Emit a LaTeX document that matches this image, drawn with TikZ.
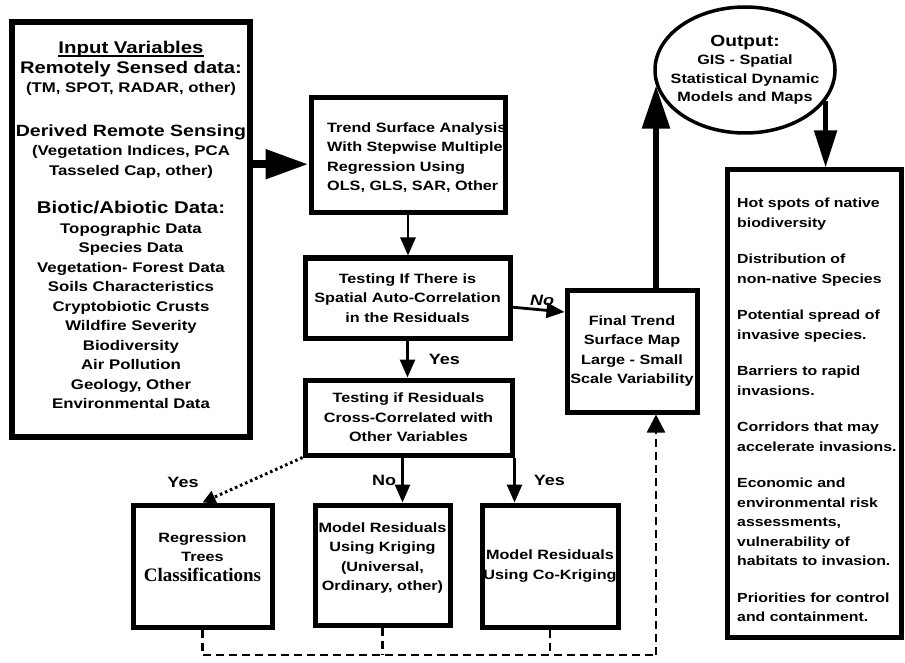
\documentclass[tikz,border=0pt]{standalone}
\usepackage{fontspec}
\usetikzlibrary{arrows.meta,shapes.geometric,calc}
\newfontfamily\dfont{Liberation Sans}[FakeStretch=1.2]
\newfontfamily\cfont{Liberation Serif}
% thick underline for the heading of the input box
\newcommand\ulbox[1]{\setbox0\hbox{#1}\rlap{\raisebox{-3.5pt}{\rule{\wd0}{1.8pt}}}\box0}

\begin{document}
\begin{tikzpicture}[x=1pt,y=-1pt,
  box/.style={draw, line width=5pt, rectangle, inner sep=0pt},
  btxt/.style={font=\dfont\bfseries\fontsize{13.5}{19.5}\selectfont, align=center, inner sep=0pt},
  lbl/.style={font=\dfont\bfseries\fontsize{15}{18}\selectfont, inner sep=0pt},
  arr/.style={line width=2.8pt, -{Triangle[length=18pt,width=15pt]}},
  dashln/.style={line width=2.5pt, dash pattern=on 8pt off 5pt},
  dotln/.style={line width=3pt, dash pattern=on 2.5pt off 3pt},
]
\useasboundingbox (0,0) rectangle (905,663);
\fill[white] (0,0) rectangle (905,663);

% ---- input variables ----
\node[box, line width=6pt, minimum width=238pt, minimum height=415pt] (input) at (131,229.5) {};
\node[btxt, font=\dfont\bfseries\fontsize{14}{19.5}\selectfont] (inputtxt) at (131,225) {%
  {\fontsize{17}{19.5}\selectfont\ulbox{Input Variables}}\\
  {\fontsize{16.8}{19.5}\selectfont Remotely Sensed data:}\\
  (TM, SPOT, RADAR, other)\\[24pt]
  {\fontsize{16.3}{19.5}\selectfont Derived Remote Sensing}\\
  (Vegetation Indices, PCA\\
  Tasseled Cap, other)\\[19pt]
  {\fontsize{17}{19.5}\selectfont Biotic/Abiotic Data:}\\
  Topographic Data\\
  Species Data\\
  Vegetation- Forest Data\\
  Soils Characteristics\\
  Cryptobiotic Crusts\\
  Wildfire Severity\\
  Biodiversity\\
  Air Pollution\\
  Geology, Other\\
  Environmental Data};

% ---- analysis chain ----
\node[box, minimum width=194pt, minimum height=115pt] (trend) at (408,155.5) {};
\node[btxt, align=left, anchor=west] (trendtxt) at (327,157.5) {Trend Surface Analysis\\
  With Stepwise Multiple\\ Regression Using\\ OLS, GLS, SAR, Other};

\node[box, minimum width=205pt, minimum height=80pt] (t1) at (407.5,298) {};
\node[btxt] (t1txt) at (t1.center) {Testing If There is\\ Spatial Auto-Correlation\\ in the Residuals};

\node[box, minimum width=207pt, minimum height=75pt] (t2) at (408.5,417.5) {};
\node[btxt] (t2txt) at (t2.center) {Testing if Residuals\\ Cross-Correlated with\\ Other Variables};

\node[box, minimum width=139pt, minimum height=122pt] (reg) at (202.5,566) {};
\node[btxt] (regtxt) at ($(reg.center)+(0,-9)$) {Regression\\ Trees\\
  {\cfont\fontsize{19}{19.5}\selectfont Classifications}};

\node[box, minimum width=135pt, minimum height=120pt] (krig) at (382.5,565) {};
\node[btxt] (krigtxt) at ($(krig.center)+(0,-7)$) {Model Residuals\\ Using Kriging\\ (Universal,\\ Ordinary, other)};

\node[box, minimum width=136pt, minimum height=122pt] (cokrig) at (550,566) {};
\node[btxt] (cokrigtxt) at (cokrig.center) {Model Residuals\\ Using Co-Kriging};

\node[box, minimum width=130pt, minimum height=122pt] (final) at (632,351) {};
\node[btxt] (finaltxt) at (final.center) {Final Trend\\ Surface Map\\ Large - Small\\ Scale Variability};

% ---- output ----
\node[draw, ellipse, line width=3.5pt, minimum width=180pt, minimum height=126pt, inner sep=0pt] (out) at (745,70) {};
\node[btxt, font=\dfont\bfseries\fontsize{13.5}{18.5}\selectfont] (outtxt) at (out.center) {%
  {\fontsize{16}{18.5}\selectfont Output:}\\ GIS - Spatial\\ Statistical Dynamic\\ Models and Maps};

\node[box, minimum width=174pt, minimum height=467pt] (list) at (814,403.5) {};
\node[btxt, align=left, anchor=north west, font=\dfont\bfseries\fontsize{13.2}{19.5}\selectfont] (listtxt) at (737,198) {%
  Hot spots of native\\ biodiversity\\[17pt]
  Distribution of\\ non-native Species\\[17pt]
  Potential spread of\\ invasive species.\\[17pt]
  Barriers to rapid\\ invasions.\\[17pt]
  Corridors that may\\ accelerate invasions.\\[17pt]
  Economic and\\ environmental risk\\ assessments,\\ vulnerability of\\ habitats to invasion.\\[17pt]
  Priorities for control\\ and containment.};

% ---- connectors ----
\draw[line width=8pt, -{Triangle[length=43pt,width=28pt]}] (input.east |- trend.185) -- (trend.185);
\draw[arr] (trend.south) -- (trend.south |- t1.north);
\draw[arr] (t1.south) -- node[lbl, right=20pt] (lyes1) {Yes} (t1.south |- t2.north);
\draw[arr] (t1.-5) -- (final.150);
\node[lbl, font=\dfont\bfseries\itshape\fontsize{15}{18}\selectfont] (lno1) at (542,300) {No};
\coordinate (t2k) at ($(t2.south)+(-6,0)$);
\draw[arr] (t2k) -- node[lbl, left=5pt] (lno2) {No} (t2k |- krig.north);
\draw[arr] (t2.south east) -- node[lbl, right=18pt] (lyes2) {Yes} (t2.south east |- cokrig.north);
\draw[dotln, -{Triangle[length=13pt,width=13pt]}] (t2.south west) -- (reg.north);
\node[lbl] (lyes3) at (183,482) {Yes};

\draw[line width=6pt, -{Triangle[length=43pt,width=27pt]}] (out.190 |- final.north) -- (out.190);
\draw[line width=5pt, -{Triangle[length=37pt,width=22pt]}] (out.-21) -- (out.-21 |- list.north);

\coordinate (busY) at (0,655);
\coordinate (busR) at (out.190 |- busY);
\draw[dashln] (reg.south) |- (busR);
\draw[dashln] (krig.south) -- (krig.south |- busR);
\draw[dashln] (cokrig.south) -- (cokrig.south |- busR);
\draw[dashln, -{Triangle[length=18pt,width=18pt]}] (busR) -- (busR |- final.south);
\end{tikzpicture}
\end{document}
